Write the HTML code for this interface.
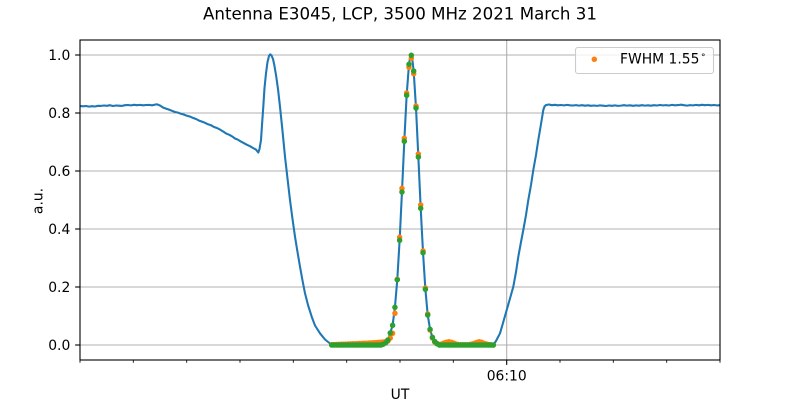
<!DOCTYPE html>
<html><head><meta charset="utf-8"><style>
html,body{margin:0;padding:0;background:#fff;}
svg{display:block;font-family:"DejaVu Sans","Liberation Sans",sans-serif;}
</style></head><body>
<svg width="800" height="400" viewBox="0 0 800 400" xmlns="http://www.w3.org/2000/svg">
<rect width="800" height="400" fill="#fff"/>
<!-- grid -->
<g stroke="#b0b0b0" stroke-width="1.1">
<line x1="80" y1="55" x2="720" y2="55"/>
<line x1="80" y1="113" x2="720" y2="113"/>
<line x1="80" y1="171" x2="720" y2="171"/>
<line x1="80" y1="229" x2="720" y2="229"/>
<line x1="80" y1="287" x2="720" y2="287"/>
<line x1="80" y1="345" x2="720" y2="345"/>
<line x1="506.7" y1="40" x2="506.7" y2="360"/>
</g>
<!-- blue line -->
<polyline fill="none" stroke="#1f77b4" stroke-width="2.08" stroke-linejoin="round" points="80,106 83,106.3 86,106 89,106.6 92,106.2 95,106.5 98,105.8 101,105.9 104,105.5 107,105.8 110,105.2 113,106 116,105.5 119,105.7 122,105.9 125,105.2 128,105 131,105.4 134,104.8 137,105.2 140,104.9 143,105.3 146,105 149,104.9 152,105.3 155,104.6 157,104.3 160,105.5 163,107.5 166,108.6 169,109.6 172,110.8 175,112 178,112.6 181,113.8 184,114.6 187,115.8 190,116.6 193,117.9 196,119 199,120.6 202,121.6 205,122.8 208,124.3 211,125.2 214,127 217,128 220,129.6 223,131.4 226,133.4 229,134.7 232,136.3 235,138.5 238,139.7 241,141.6 244,143.2 247,144.8 250,146.2 253,148 256,149.6 258.3,152.5 259.5,149 261,140 262,125 263.3,106.7 264.5,88 266,73.3 267.5,62 269,56 270.3,54.3 271.5,55.5 273,59 274.3,65 276,75 278,89 280,106.7 282.5,131 285,156.7 287.5,178.5 290,200 292.5,219 295,236.7 297.5,252 300,266.7 302.5,280.5 305,293.3 308,305 311.7,316.7 315,325.5 320,333.3 325,339.5 330,343.5 331.7,344.8 340,345 360,345 380.88,345 383.22,344.2 385.57,342.9 387.91,340 390.25,333 392.59,325.3 394.93,307.3 397.28,279.7 399.62,240.3 401.96,192 404.3,141.3 406.64,95.3 408.99,64.3 410.2,57 411.33,55.3 412.5,61 413.67,71 416.01,108 418.35,157 420.7,208.3 423.04,252.7 425.38,289.3 427.72,315 430.06,329.3 432.41,337.3 434.75,341.5 437.09,343.8 439.43,345 460,345 493.3,345 496,341 500,333.3 503,323 506.7,310 510,298.5 513.3,286.7 516,272 518.3,256.7 521,242 523.3,230 526,215 528.3,200 531,185 533.3,170 536,155 538.3,140 541,124 543.3,110 544.5,106.5 546,105 549,104.5 552,105.2 555,104.8 558,105.3 561,105 564,105.4 567,104.9 570,105.3 573,105.5 576,105.1 579,105.6 582,105.2 585,105.7 588,105.3 591,105.8 594,105.5 597,105.9 600,105.4 603,105.7 606,106 609,105.5 612,105.8 615,105.4 618,105.9 621,105.6 624,105.2 627,105.6 630,105.3 633,105.8 636,105.4 639,105.7 642,105.2 645,105.6 648,105.3 651,105.7 654,105.2 657,105.5 660,105 663,105.4 666,105.1 669,105.5 672,104.9 675,105.3 678,105.1 681,104.7 684,105.2 687,105.6 690,105.1 693,105.4 696,104.9 699,105.3 702,104.8 705,105.2 708,104.9 711,105.3 714,105 717,105.4 720,105.2"/>
<!-- orange dots -->
<path fill="none" stroke="#ff7f0e" stroke-width="5.5" stroke-linecap="round" d="M331.7 344.8h0M334.04 344.6h0M336.38 344.5h0M338.73 344.4h0M341.07 344.3h0M343.41 344.2h0M345.75 344.1h0M348.09 344h0M350.44 343.9h0M352.78 343.8h0M355.12 343.7h0M357.46 343.6h0M359.8 343.5h0M362.15 343.4h0M364.49 343.3h0M366.83 343.2h0M369.17 343h0M371.51 342.9h0M373.86 342.8h0M376.2 342.6h0M378.54 342.4h0M380.88 342.2h0M383.22 342h0M385.57 341.6h0M387.91 341h0M390.25 338h0M392.59 333.3h0M394.93 313.3h0M397.28 279.3h0M399.62 237.3h0M401.96 188.3h0M404.3 138.3h0M406.64 93h0M408.99 67.3h0M411.33 58.3h0M413.67 73.7h0M416.01 106h0M418.35 154h0M420.7 205h0M423.04 251h0M425.38 288h0M427.72 314h0M430.06 330h0M432.41 338h0M434.75 342h0M437.09 343.5h0M439.43 344.5h0M441.77 344h0M444.12 343h0M446.46 342.2h0M448.8 341.8h0M451.14 342.2h0M453.48 343h0M455.83 344h0M458.17 344.5h0M460.51 344.7h0M462.85 344.8h0M465.19 344.8h0M467.54 344.7h0M469.88 344.5h0M472.22 344h0M474.56 343.2h0M476.9 342.4h0M479.25 341.8h0M481.59 342.3h0M483.93 343.2h0M486.27 344h0M488.61 344.5h0M490.96 344.8h0M493.3 345h0"/>
<!-- green dots -->
<path fill="none" stroke="#2ca02c" stroke-width="5.5" stroke-linecap="round" d="M331.7 345h0M334.04 345h0M336.38 345h0M338.73 345h0M341.07 345h0M343.41 345h0M345.75 345h0M348.09 345h0M350.44 345h0M352.78 345h0M355.12 345h0M357.46 345h0M359.8 345h0M362.15 345h0M364.49 345h0M366.83 345h0M369.17 345h0M371.51 345h0M373.86 345h0M376.2 345h0M378.54 345h0M380.88 345h0M383.22 344.2h0M385.57 342.9h0M387.91 340h0M390.25 333h0M392.59 325.3h0M394.93 307.3h0M397.28 279.7h0M399.62 240.3h0M401.96 192h0M404.3 141.3h0M406.64 95.3h0M408.99 64.3h0M411.33 55.3h0M413.67 71h0M416.01 108h0M418.35 157h0M420.7 208.3h0M423.04 252.7h0M425.38 289.3h0M427.72 315h0M430.06 329.3h0M432.41 337.3h0M434.75 341.5h0M437.09 343.8h0M439.43 345h0M441.77 345h0M444.12 345h0M446.46 345h0M448.8 345h0M451.14 345h0M453.48 345h0M455.83 345h0M458.17 345h0M460.51 345h0M462.85 345h0M465.19 345h0M467.54 345h0M469.88 345h0M472.22 345h0M474.56 345h0M476.9 345h0M479.25 345h0M481.59 345h0M483.93 345h0M486.27 345h0M488.61 345h0M490.96 345h0M493.3 345h0"/>
<!-- axes frame -->
<rect x="80" y="40" width="640" height="320" fill="none" stroke="#000" stroke-width="1.1"/>
<!-- y ticks -->
<g stroke="#000" stroke-width="1.1">
<line x1="75.1" y1="55" x2="80" y2="55"/>
<line x1="75.1" y1="113" x2="80" y2="113"/>
<line x1="75.1" y1="171" x2="80" y2="171"/>
<line x1="75.1" y1="229" x2="80" y2="229"/>
<line x1="75.1" y1="287" x2="80" y2="287"/>
<line x1="75.1" y1="345" x2="80" y2="345"/>
<!-- x ticks -->
<line x1="506.7" y1="360" x2="506.7" y2="364.9"/>
<g stroke-width="0.85">
<line x1="80" y1="360" x2="80" y2="362.8"/>
<line x1="133.3" y1="360" x2="133.3" y2="362.8"/>
<line x1="186.7" y1="360" x2="186.7" y2="362.8"/>
<line x1="240" y1="360" x2="240" y2="362.8"/>
<line x1="293.3" y1="360" x2="293.3" y2="362.8"/>
<line x1="346.7" y1="360" x2="346.7" y2="362.8"/>
<line x1="400" y1="360" x2="400" y2="362.8"/>
<line x1="453.3" y1="360" x2="453.3" y2="362.8"/>
<line x1="560" y1="360" x2="560" y2="362.8"/>
<line x1="613.3" y1="360" x2="613.3" y2="362.8"/>
<line x1="666.7" y1="360" x2="666.7" y2="362.8"/>
<line x1="720" y1="360" x2="720" y2="362.8"/>
</g>
</g>
<!-- y tick labels -->
<g font-size="13.89" fill="#000" text-anchor="end">
<text x="70.3" y="60">1.0</text>
<text x="70.3" y="118">0.8</text>
<text x="70.3" y="176">0.6</text>
<text x="70.3" y="234">0.4</text>
<text x="70.3" y="292">0.2</text>
<text x="70.3" y="350">0.0</text>
</g>
<text x="506.7" y="380.7" font-size="13.89" text-anchor="middle">06:10</text>
<text x="400" y="399" font-size="13.89" text-anchor="middle">UT</text>
<text transform="translate(42.3,201) rotate(-90)" font-size="13.89" text-anchor="middle">a.u.</text>
<text x="400" y="19.5" font-size="16.67" text-anchor="middle">Antenna E3045, LCP, 3500 MHz 2021 March 31</text>
<!-- legend -->
<rect x="575.5" y="47.5" width="138" height="26" rx="2.5" ry="2.5" fill="rgba(255,255,255,0.8)" stroke="#cccccc" stroke-width="1.1"/>
<circle cx="594.3" cy="59.3" r="2.75" fill="#ff7f0e"/>
<text x="620" y="63.5" font-size="13.89">FWHM 1.55<tspan x="701" y="60" font-size="9">°</tspan></text>
</svg>
</body></html>
